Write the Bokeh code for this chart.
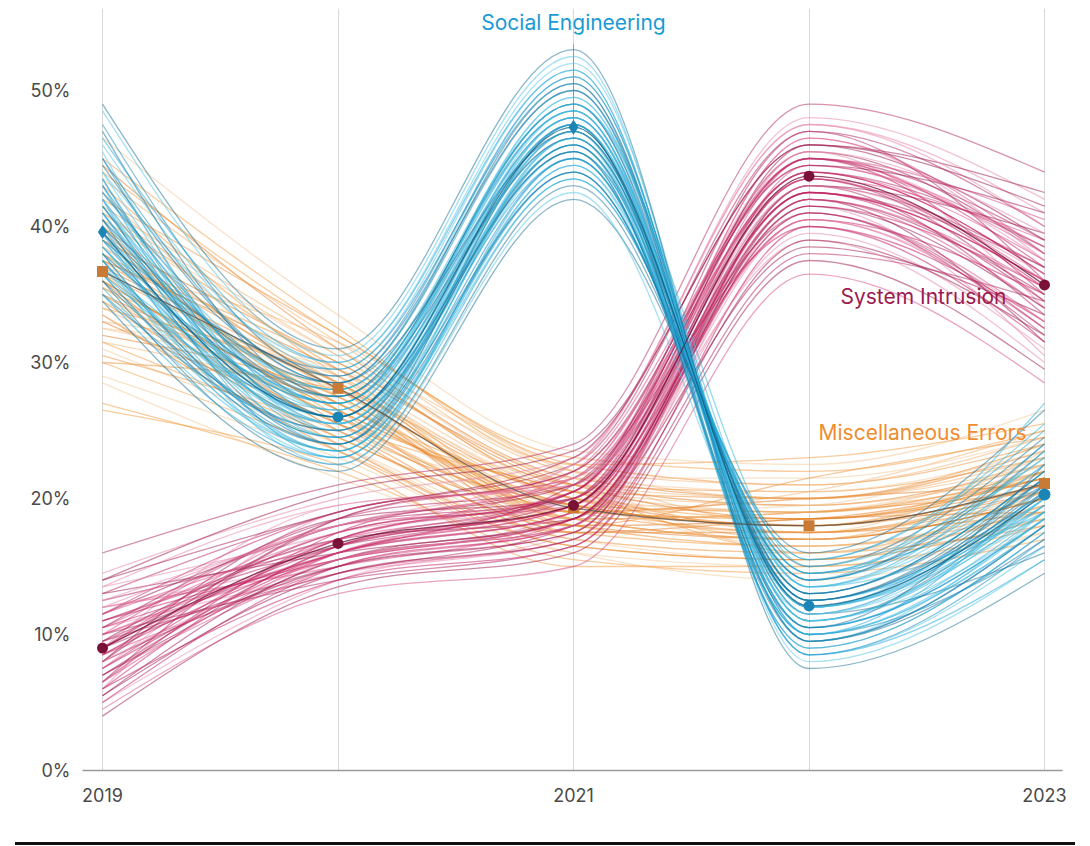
from bokeh.plotting import figure
from bokeh.models import (ColumnDataSource, FixedTicker, CustomJSTickFormatter,
                          Range1d, Label, Div)
from bokeh.layouts import column
from bokeh.embed import file_html
from bokeh.resources import INLINE

years = [2019, 2020, 2021, 2022, 2023]
tick_years = [2019, 2021, 2023]
y_ticks = [0, 10, 20, 30, 40, 50]

# point estimates (%)
se_point = [39.6, 26.0, 47.3, 12.1, 20.3]
si_point = [9.0, 16.7, 19.5, 43.7, 35.7]
me_point = [36.7, 28.1, 19.3, 18.0, 21.1]

# simulated outcome lines (%), one row per line, one value per year
se_lines = [
    [39.5, 26.0, 47.0, 12.0, 20.0], [42.0, 27.5, 49.0, 10.5, 18.5], [37.0, 24.5, 45.5, 13.5, 21.5],
    [44.5, 28.5, 50.5, 9.5, 17.0], [35.5, 23.5, 44.0, 14.5, 23.0], [41.0, 25.0, 48.0, 11.0, 19.5],
    [38.5, 27.0, 46.5, 12.5, 20.5], [46.0, 29.5, 51.5, 8.5, 16.5], [36.0, 22.5, 43.0, 15.0, 24.5],
    [40.5, 26.5, 47.5, 13.0, 22.0], [43.0, 24.0, 46.0, 10.0, 18.0], [38.0, 28.0, 48.5, 11.5, 21.0],
    [48.5, 30.5, 52.5, 8.0, 15.5], [34.5, 22.0, 42.0, 16.0, 26.5], [41.5, 27.0, 49.5, 12.0, 19.0],
    [39.0, 25.5, 45.0, 14.0, 22.5], [45.0, 26.0, 47.5, 9.0, 17.5], [37.5, 23.0, 44.5, 12.5, 20.0],
    [42.5, 29.0, 50.0, 11.0, 20.5], [40.0, 24.5, 46.5, 13.5, 23.5], [36.5, 26.5, 48.0, 10.5, 18.5],
    [43.5, 25.5, 45.5, 14.5, 21.0], [39.5, 28.5, 51.0, 9.5, 19.0], [47.0, 27.5, 49.0, 11.5, 16.0],
    [38.0, 23.5, 43.5, 15.5, 25.5], [41.0, 26.0, 46.0, 12.0, 21.5], [35.0, 25.0, 47.0, 13.0, 22.0],
    [44.0, 30.0, 52.0, 10.0, 18.0], [40.5, 24.0, 44.0, 14.0, 24.0], [37.0, 27.5, 48.5, 11.0, 20.0],
    [42.0, 23.0, 45.0, 12.5, 19.5], [39.0, 29.5, 50.5, 8.5, 17.0], [45.5, 25.0, 46.5, 13.5, 22.5],
    [36.5, 24.0, 47.5, 9.5, 18.0], [41.5, 28.0, 49.0, 15.0, 23.0], [38.5, 26.0, 45.5, 10.0, 21.0],
    [43.0, 27.0, 48.0, 12.5, 20.5], [40.0, 22.5, 42.5, 11.5, 19.0], [49.0, 31.0, 53.0, 7.5, 14.5],
    [37.5, 25.5, 46.0, 14.0, 27.0],
    [41.0, 27.0, 48.5, 10.5, 19.0], [38.0, 24.0, 45.0, 13.0, 22.0], [44.0, 26.5, 49.5, 11.0, 18.5],
    [36.0, 25.0, 46.0, 12.5, 21.5], [42.5, 28.0, 47.0, 9.0, 17.5], [39.5, 23.5, 44.5, 14.5, 24.0],
    [47.5, 29.0, 51.0, 10.0, 16.5], [37.0, 26.0, 48.0, 11.5, 20.0], [40.0, 27.5, 46.5, 13.0, 21.5],
    [43.5, 24.5, 47.5, 12.0, 19.5], [35.0, 23.0, 43.5, 15.5, 25.0], [45.0, 28.5, 50.0, 9.5, 18.0],
    [38.5, 25.5, 47.0, 12.0, 20.5], [41.5, 26.0, 45.5, 10.5, 22.5], [39.0, 27.0, 49.0, 13.5, 19.0],
    [46.5, 30.0, 51.5, 8.5, 15.5], [37.5, 24.5, 44.0, 14.0, 23.5], [42.0, 25.5, 48.5, 11.0, 20.0],
    [40.5, 28.5, 47.0, 12.5, 21.0], [36.5, 23.5, 46.5, 10.0, 18.5],
]
si_lines = [
    [9.0, 16.5, 19.5, 43.5, 35.5], [7.0, 15.0, 18.0, 41.0, 33.0], [11.5, 18.0, 21.0, 45.5, 38.0],
    [5.0, 14.0, 17.5, 39.5, 31.0], [13.0, 19.0, 22.5, 47.0, 40.0], [8.5, 17.0, 20.5, 44.0, 36.5],
    [10.0, 15.5, 18.5, 42.0, 34.0], [4.0, 13.5, 16.0, 37.5, 29.5], [14.5, 20.0, 23.0, 48.0, 42.0],
    [9.5, 16.0, 19.0, 43.0, 37.0], [6.5, 17.5, 21.5, 45.0, 35.0], [12.0, 15.0, 18.5, 40.5, 32.5],
    [8.0, 18.5, 20.0, 46.0, 39.0], [10.5, 14.5, 17.0, 41.5, 30.5], [16.0, 21.0, 24.0, 49.0, 44.0],
    [7.5, 16.0, 19.5, 42.5, 36.0], [11.0, 17.0, 22.0, 44.5, 38.5], [5.5, 15.5, 18.0, 38.5, 33.5],
    [9.0, 19.5, 21.0, 46.5, 37.5], [12.5, 16.5, 20.0, 43.5, 34.5], [6.0, 14.0, 16.5, 40.0, 31.5],
    [10.0, 18.0, 19.5, 45.0, 40.5], [8.0, 15.0, 17.5, 42.0, 35.0], [13.5, 17.5, 22.5, 47.5, 41.0],
    [7.0, 16.5, 20.5, 41.0, 32.0], [11.5, 19.0, 21.5, 44.0, 36.5], [4.5, 13.0, 15.0, 36.5, 28.5],
    [9.5, 17.0, 18.5, 43.0, 39.5], [12.0, 15.5, 19.0, 45.5, 34.0], [6.5, 18.0, 20.0, 42.5, 37.0],
    [10.5, 16.0, 21.0, 40.0, 33.0], [8.5, 14.5, 17.0, 44.5, 38.0], [14.0, 20.5, 23.5, 46.0, 42.5],
    [7.5, 17.5, 19.5, 39.0, 30.0], [11.0, 16.5, 20.5, 47.0, 36.0], [5.0, 15.0, 18.0, 41.5, 35.5],
    [9.0, 18.5, 22.0, 43.5, 39.0], [13.0, 16.0, 18.5, 42.0, 31.5], [6.0, 19.0, 21.5, 45.0, 37.5],
    [10.0, 14.0, 16.5, 38.0, 34.5],
    [8.5, 16.0, 19.0, 42.5, 36.0], [10.5, 17.5, 20.5, 44.0, 37.5], [7.0, 15.5, 18.5, 41.5, 34.0],
    [12.0, 18.0, 21.5, 45.5, 39.5], [9.0, 15.0, 17.5, 43.0, 33.5], [6.0, 16.5, 19.5, 40.5, 35.0],
    [11.5, 17.0, 20.0, 46.5, 38.0], [8.0, 18.5, 22.0, 44.5, 41.0], [13.5, 19.5, 21.0, 43.0, 36.5],
    [9.5, 14.5, 18.0, 41.0, 32.5], [7.5, 17.0, 20.5, 45.0, 37.0], [10.0, 16.0, 19.0, 42.0, 35.5],
    [5.5, 14.5, 17.0, 39.0, 32.0], [12.5, 18.0, 22.5, 47.5, 40.0], [9.0, 17.5, 20.0, 44.0, 38.5],
    [11.0, 15.5, 18.5, 42.5, 34.5], [6.5, 16.0, 19.5, 43.5, 36.0], [14.0, 19.0, 23.0, 46.0, 41.5],
    [8.0, 15.5, 18.0, 40.5, 33.0], [10.5, 18.5, 21.0, 45.0, 39.0],
]
me_lines = [
    [36.5, 28.0, 19.5, 18.0, 21.0], [34.0, 26.0, 18.0, 16.5, 19.5], [39.0, 30.0, 21.0, 19.5, 22.5],
    [31.0, 24.0, 17.0, 15.5, 18.5], [42.0, 32.0, 22.5, 21.0, 24.0], [37.5, 27.0, 20.0, 17.0, 20.0],
    [33.0, 29.0, 19.0, 18.5, 22.0], [44.5, 31.0, 21.5, 20.0, 23.5], [29.0, 23.0, 16.0, 15.0, 17.5],
    [38.0, 28.5, 18.5, 19.0, 21.5], [35.0, 25.5, 20.5, 16.0, 20.5], [40.5, 29.5, 19.0, 20.5, 25.0],
    [32.0, 27.5, 17.5, 17.5, 19.0], [46.5, 33.5, 23.5, 22.5, 26.5], [36.0, 26.5, 19.5, 18.0, 22.0],
    [27.0, 22.0, 15.5, 14.5, 17.0], [41.0, 30.5, 20.5, 19.0, 23.0], [34.5, 24.5, 18.5, 17.0, 20.0],
    [38.5, 27.5, 21.5, 21.5, 24.5], [30.5, 25.0, 17.0, 16.0, 18.0], [43.0, 29.0, 20.0, 18.5, 21.5],
    [37.0, 31.5, 22.0, 20.0, 22.5], [33.5, 23.5, 16.5, 15.5, 19.5], [39.5, 28.0, 19.0, 19.5, 24.0],
    [35.5, 26.0, 20.5, 17.5, 21.0], [45.0, 32.5, 22.5, 23.0, 25.5], [31.5, 27.0, 18.0, 16.5, 18.5],
    [40.0, 25.5, 19.5, 18.0, 20.5], [28.5, 21.5, 16.0, 14.0, 17.5], [37.5, 30.0, 21.0, 20.5, 23.0],
    [34.0, 28.5, 18.5, 17.0, 22.0], [42.5, 27.5, 20.0, 19.0, 21.5], [36.0, 24.0, 17.5, 18.5, 19.0],
    [32.5, 29.5, 21.5, 16.0, 20.0], [39.0, 26.5, 18.0, 21.5, 24.5], [26.5, 22.5, 15.0, 15.0, 18.0],
    [41.5, 31.0, 22.0, 18.0, 22.5], [35.0, 27.0, 19.0, 20.0, 21.0], [38.0, 25.0, 20.5, 17.5, 23.5],
    [30.0, 28.0, 18.5, 19.0, 20.5],
    [35.5, 27.5, 19.0, 18.5, 21.5], [38.5, 29.0, 20.5, 19.5, 22.0], [33.0, 25.5, 18.0, 17.0, 20.0],
    [40.5, 30.5, 21.5, 20.5, 23.5], [36.0, 26.5, 19.5, 17.5, 20.5], [31.5, 24.5, 17.5, 16.5, 19.0],
    [43.5, 31.5, 22.0, 21.0, 24.5], [37.0, 28.5, 20.0, 18.0, 21.0], [34.5, 27.0, 18.5, 19.0, 22.5],
    [39.5, 26.0, 19.0, 17.5, 20.0], [30.0, 23.5, 16.5, 15.5, 18.5], [41.0, 29.5, 21.0, 20.0, 23.0],
    [36.5, 25.0, 18.0, 18.5, 21.5], [32.5, 28.0, 20.0, 16.5, 19.5], [38.0, 27.0, 19.5, 19.0, 22.0],
    [44.0, 32.0, 23.0, 22.0, 25.0], [35.0, 26.0, 18.5, 17.0, 20.5], [37.5, 29.5, 21.0, 18.5, 21.0],
    [33.5, 24.0, 17.0, 16.0, 19.0], [40.0, 28.0, 20.5, 20.0, 24.0],
]

se_shades = ["#1aa3d9", "#0e86bb", "#52c4e8", "#176f96", "#2fb4dc"]
si_shades = ["#c2185b", "#d84a82", "#9c1448", "#e585a8", "#b0245e"]
me_shades = ["#f39a3c", "#f2b474", "#e27c22", "#f6c898", "#eb8f35"]


def monotone_beziers(xs, ys):
    """Cubic bezier control points of a monotone-X curve through the points."""
    n = len(xs)
    s = [(ys[i + 1] - ys[i]) / (xs[i + 1] - xs[i]) for i in range(n - 1)]
    t = [0.0] * n
    sgn = lambda v: -1.0 if v < 0 else 1.0
    for i in range(1, n - 1):
        h0 = xs[i] - xs[i - 1]
        h1 = xs[i + 1] - xs[i]
        s0, s1 = s[i - 1], s[i]
        pp = (s0 * h1 + s1 * h0) / (h0 + h1)
        t[i] = (sgn(s0) + sgn(s1)) * min(abs(s0), abs(s1), 0.5 * abs(pp))
    t[0] = (3 * s[0] - t[1]) / 2
    t[-1] = (3 * s[-1] - t[-2]) / 2
    segs = []
    for i in range(n - 1):
        dx = xs[i + 1] - xs[i]
        segs.append((xs[i], ys[i], xs[i + 1], ys[i + 1],
                     xs[i] + dx / 3, ys[i] + dx * t[i] / 3,
                     xs[i + 1] - dx / 3, ys[i + 1] - dx * t[i + 1] / 3))
    return segs


def bezier_source(lines, shades):
    keys = ["x0", "y0", "x1", "y1", "cx0", "cy0", "cx1", "cy1"]
    d = {k: [] for k in keys + ["color"]}
    for j, ln in enumerate(lines):
        for seg in monotone_beziers(years, ln):
            for k, v in zip(keys, seg):
                d[k].append(v)
            d["color"].append(shades[j % len(shades)])
    return ColumnDataSource(d)


PX_PER_YEAR = 235.5
PX_PER_PCT = 13.6
FRAME_H = 762

p = figure(width=1082, height=834, output_backend="svg", toolbar_location=None,
           x_range=Range1d(2019 - 20 / PX_PER_YEAR, 2023 + 18 / PX_PER_YEAR),
           y_range=Range1d(0, FRAME_H / PX_PER_PCT),
           min_border_left=82, min_border_right=20, min_border_top=8, min_border_bottom=64)
p.outline_line_color = None
p.background_fill_color = "white"
p.border_fill_color = "white"

p.ygrid.grid_line_color = None
p.xgrid.ticker = FixedTicker(ticks=years)
p.xgrid.grid_line_color = "#d9d9d9"
p.xgrid.grid_line_width = 1

p.xaxis.ticker = FixedTicker(ticks=tick_years)
p.xaxis.major_tick_line_color = None
p.xaxis.minor_tick_line_color = None
p.xaxis.axis_line_color = "#9a9a9a"
p.xaxis.axis_line_width = 1.5
p.xaxis.major_label_text_font = "Inter"
p.xaxis.major_label_text_font_size = "18px"
p.xaxis.major_label_text_color = "#4a4a4a"
p.xaxis.major_label_standoff = 11

p.yaxis.ticker = FixedTicker(ticks=y_ticks)
p.yaxis.formatter = CustomJSTickFormatter(code="return tick + '%';")
p.yaxis.major_tick_line_color = None
p.yaxis.minor_tick_line_color = None
p.yaxis.axis_line_color = None
p.yaxis.major_label_text_font = "Inter"
p.yaxis.major_label_text_font_size = "18px"
p.yaxis.major_label_text_color = "#4a4a4a"
p.yaxis.major_label_standoff = 6

# leader line for Social Engineering label
p.segment(x0=[2021], y0=[53.4], x1=[2021], y1=[se_point[2]], line_color="#9a9a9a", line_width=1)

for lines, shades in [(me_lines, me_shades), (si_lines, si_shades), (se_lines, se_shades)]:
    src = bezier_source(lines, shades)
    p.bezier(x0="x0", y0="y0", x1="x1", y1="y1", cx0="cx0", cy0="cy0", cx1="cx1", cy1="cy1",
             source=src, line_color="color", line_alpha=0.5, line_width=1.3)

# point-estimate lines
for pts, col in [(me_point, "#5a4f46"), (si_point, "#6e0f33"), (se_point, "#0b5f85")]:
    src = bezier_source([pts], [col])
    p.bezier(x0="x0", y0="y0", x1="x1", y1="y1", cx0="cx0", cy0="cy0", cx1="cx1", cy1="cy1",
             source=src, line_color="color", line_alpha=0.75, line_width=1.3)

se_markers = ["diamond", "circle", "diamond", "circle", "circle"]
p.scatter(x=years, y=me_point, marker="square", size=11, fill_color="#c97b36", line_color=None)
p.scatter(x=years, y=si_point, marker="circle", size=11, fill_color="#7a1238", line_color=None)
p.scatter(x=years, y=se_point, marker=se_markers, size=[14, 11, 15, 11, 12],
          fill_color="#1b86b5", line_color=None)

p.add_layout(Label(x=2021, y=(770 - 22) / PX_PER_PCT, text="Social Engineering",
                   text_align="center", text_baseline="middle", text_font="Inter",
                   text_font_size="21px", text_color="#1a9ad6"))
p.add_layout(Label(x=2019 + (840 - 102) / PX_PER_YEAR, y=(770 - 296) / PX_PER_PCT,
                   text="System Intrusion", text_align="left", text_baseline="middle",
                   text_font="Inter", text_font_size="21px", text_color="#9b1b4f"))
p.add_layout(Label(x=2019 + (818 - 102) / PX_PER_YEAR, y=(770 - 432) / PX_PER_PCT,
                   text="Miscellaneous Errors", text_align="left", text_baseline="middle",
                   text_font="Inter", text_font_size="21px", text_color="#ef8c2e"))

rule = Div(width=1060, height=11, margin=(0, 0, 0, 15),
           styles={"border-bottom": "3px solid #111111", "box-sizing": "border-box"})

layout = column(p, rule, spacing=0)
open("out.html", "w").write(file_html(layout, INLINE))
